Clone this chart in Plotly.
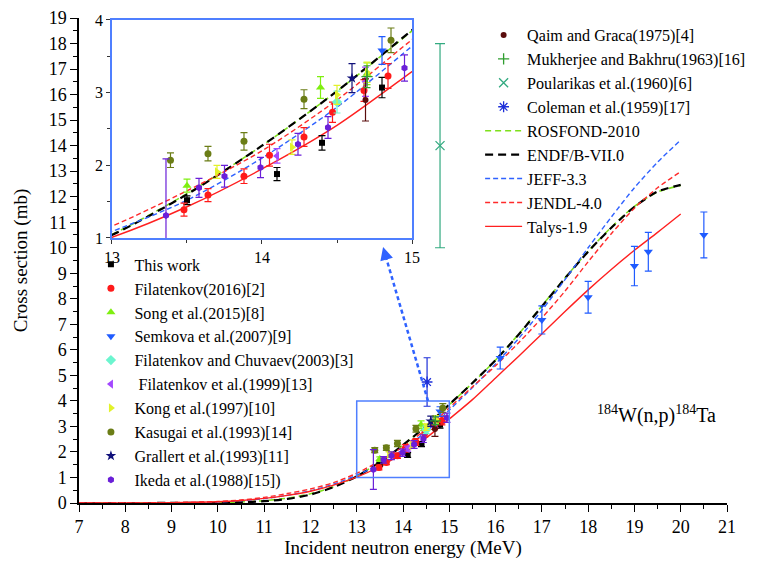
import plotly.graph_objects as go

FONT = "Liberation Serif, DejaVu Serif, Times New Roman, serif"

# ---------------- evaluated data (mb) ----------------
energy_eval = [7, 8, 9, 10, 10.5, 11, 11.5, 12, 12.5, 13, 13.5, 14, 14.5, 15,
               15.5, 16, 16.5, 17, 17.5, 18, 18.5, 19, 19.5, 20]
rosfond = [0, 0, 0.003, 0.015, 0.04, 0.09, 0.19, 0.36, 0.64, 1.05, 1.61, 2.27, 3.02, 3.85,
           4.7, 5.6, 6.62, 7.72, 8.82, 9.86, 10.8, 11.62, 12.18, 12.44]
endf = [0, 0, 0.002, 0.01, 0.03, 0.07, 0.16, 0.33, 0.62, 1.04, 1.6, 2.27, 3.02, 3.86,
        4.7, 5.6, 6.6, 7.7, 8.8, 9.85, 10.78, 11.6, 12.2, 12.46]
jeff = [0, 0.001, 0.008, 0.04, 0.09, 0.17, 0.3, 0.48, 0.74, 1.09, 1.52, 2.1, 2.8, 3.64,
        4.52, 5.45, 6.45, 7.55, 8.75, 10.0, 11.2, 12.35, 13.35, 14.22]
jendl = [0, 0.002, 0.015, 0.06, 0.12, 0.22, 0.37, 0.55, 0.8, 1.165, 1.65, 2.2, 2.9, 3.73,
         4.55, 5.38, 6.28, 7.25, 8.3, 9.45, 10.55, 11.55, 12.35, 12.98]
talys = [0, 0.002, 0.01, 0.05, 0.1, 0.18, 0.3, 0.46, 0.7, 1.01, 1.43, 1.95, 2.55, 3.29,
         4.05, 4.9, 5.75, 6.62, 7.5, 8.35, 9.15, 9.9, 10.6, 11.32]

# ---------------- experimental data ----------------
this_work_e = [13.5, 14.1, 14.4, 14.8]
this_work_s = [1.52, 1.88, 2.31, 3.07]
this_work_d = [0.06, 0.09, 0.1, 0.14]

fil2016_e = [13.48, 13.64, 13.88, 14.05, 14.28, 14.47, 14.68, 14.84]
fil2016_s = [1.39, 1.59, 1.85, 2.14, 2.39, 2.73, 3.03, 3.23]
fil2016_d = [0.09, 0.09, 0.1, 0.15, 0.13, 0.14, 0.15, 0.17]

song2015_e = [13.5, 14.39, 14.7]
song2015_s = [1.72, 3.07, 3.26]
song2015_d = [0.09, 0.15, 0.15]

semkova2007_e = [14.8, 16.1, 17.0, 18.0, 19.0, 19.3, 20.5]
semkova2007_s = [3.58, 5.68, 7.17, 8.06, 9.28, 9.84, 10.5]
semkova2007_d = [0.19, 0.43, 0.55, 0.62, 0.77, 0.76, 0.9]

chuvaev2003_e = [14.5]
chuvaev2003_s = [2.87]
chuvaev2003_d = [0.15]

fil1999_e = [14.1, 14.69]
fil1999_s = [2.13, 3.15]
fil1999_d = [0.1, 0.2]

kong1997_e = [13.7, 14.2, 14.5, 14.7]
kong1997_s = [1.91, 2.25, 2.97, 3.28]
kong1997_d = [0.09, 0.1, 0.13, 0.14]

kasugai1993_e = [13.39, 13.64, 13.88, 14.28, 14.86]
kasugai1993_s = [2.07, 2.16, 2.33, 2.91, 3.72]
kasugai1993_d = [0.1, 0.1, 0.12, 0.13, 0.17]

grallert1993_e = [14.6]
grallert1993_s = [3.2]
grallert1993_d = [0.2]

ikeda1988_e = [13.36, 13.58, 13.75, 13.99, 14.24, 14.44, 14.95]
ikeda1988_s = [1.31, 1.69, 1.85, 1.97, 2.29, 2.52, 3.34]
ikeda1988_d = [0.78, 0.13, 0.15, 0.14, 0.15, 0.15, 0.18]

qaim1975_e = [14.69]
qaim1975_s = [2.9]
qaim1975_d = [0.29]

mukherjee1963_e = [14.7]
mukherjee1963_s = [3.22]
mukherjee1963_d = [0.15]

poularikas1960_e = [14.8]
poularikas1960_s = [14.0]
poularikas1960_d = [4.0]

coleman1959_e = [14.52]
coleman1959_s = [4.74]
coleman1959_d = [0.95]

fig = go.Figure()

curves = [
    ("ROSFOND-2010", rosfond, "#7ee01c", "6px,4px", 1.6),
    ("ENDF/B-VII.0", endf, "#000000", "8px,5px", 2.2),
    ("JEFF-3.3", jeff, "#2f62ff", "5px,3px", 1.4),
    ("JENDL-4.0", jendl, "#ff2a2a", "5px,3px", 1.4),
    ("Talys-1.9", talys, "#ff2020", "solid", 1.4),
]
rank = 100
for name, vals, col, dash, w in curves:
    rank += 1
    for ax, show in (("", True), ("2", False)):
        fig.add_trace(go.Scatter(
            x=energy_eval, y=vals, mode="lines", name=name,
            line=dict(color=col, dash=dash, width=w, shape="spline", smoothing=0.8),
            xaxis="x" + ax, yaxis="y" + ax, showlegend=show,
            legend="legend2", legendrank=rank, hoverinfo="skip"))

series = [
    ("This work", this_work_e, this_work_s, this_work_d, "#000000", "square", 6, "legend", True),
    ("Filatenkov(2016)[2]", fil2016_e, fil2016_s, fil2016_d, "#ff1a1a", "circle", 7, "legend", True),
    ("Song et al.(2015)[8]", song2015_e, song2015_s, song2015_d, "#7fef10", "triangle-up", 8, "legend", True),
    ("Semkova et al.(2007)[9]", semkova2007_e, semkova2007_s, semkova2007_d, "#1f5bff", "triangle-down", 8, "legend", True),
    ("Filatenkov and Chuvaev(2003)[3]", chuvaev2003_e, chuvaev2003_s, chuvaev2003_d, "#6cf5cf", "diamond", 8, "legend", True),
    (" Filatenkov et al.(1999)[13]", fil1999_e, fil1999_s, fil1999_d, "#a347ff", "triangle-left", 8, "legend", True),
    ("Kong et al.(1997)[10]", kong1997_e, kong1997_s, kong1997_d, "#e2f22a", "triangle-right", 8, "legend", True),
    ("Kasugai et al.(1993)[14]", kasugai1993_e, kasugai1993_s, kasugai1993_d, "#6b7d16", "circle", 7, "legend", True),
    ("Grallert et al.(1993)[11]", grallert1993_e, grallert1993_s, grallert1993_d, "#10107a", "star", 8, "legend", True),
    ("Ikeda et al.(1988)[15])", ikeda1988_e, ikeda1988_s, ikeda1988_d, "#6a1fd8", "hexagon", 7, "legend", True),
    ("Qaim and Graca(1975)[4]", qaim1975_e, qaim1975_s, qaim1975_d, "#5a0c0c", "circle", 6, "legend2", True),
    ("Mukherjee and Bakhru(1963)[16]", mukherjee1963_e, mukherjee1963_s, mukherjee1963_d, "#2f9e2f", "cross-thin", 8, "legend2", True),
    ("Poularikas et al.(1960)[6]", poularikas1960_e, poularikas1960_s, poularikas1960_d, "#33aa80", "x-thin", 9, "legend2", False),
    ("Coleman et al.(1959)[17]", coleman1959_e, coleman1959_s, coleman1959_d, "#1d2fd8", "asterisk", 9, "legend2", False),
]
rank = 0
for name, e, s, d, col, sym, size, leg, in_inset in series:
    rank += 1
    thin = sym.endswith("thin") or sym == "asterisk"
    marker = dict(symbol=sym, size=size, color=col,
                  line=dict(color=col, width=1.3 if thin else 0))
    cap = 5 if name.startswith("Poularikas") else 3.5
    axes = (("", True), ("2", False)) if in_inset else (("", True),)
    for ax, show in axes:
        fig.add_trace(go.Scatter(
            x=e, y=s, mode="markers", name=name, marker=marker,
            error_y=dict(type="data", array=d, visible=True, color=col,
                         thickness=1.2, width=cap),
            xaxis="x" + ax, yaxis="y" + ax, showlegend=show,
            legend=leg, legendrank=rank, hoverinfo="skip"))

axis_common = dict(showgrid=False, zeroline=False, showline=True, linecolor="black",
                   linewidth=1.5, ticks="outside", tickcolor="black", tickwidth=1.4,
                   ticklen=7, automargin=False, ticklabeloverflow="allow",
                   tickfont=dict(family=FONT, size=18, color="black"))

inset_common = dict(showgrid=False, zeroline=False, showline=True, mirror=True,
                    linecolor="#4f7fff", linewidth=1.5, ticks="outside", ticklen=4,
                    tickcolor="#333333", tickwidth=1, automargin=False,
                    ticklabeloverflow="allow",
                    minor=dict(dtick=0.5, ticks="outside", ticklen=3, tickcolor="#333333"),
                    tickfont=dict(family=FONT, size=16, color="black"))

fig.update_layout(
    width=783, height=564,
    margin=dict(l=71, r=64, t=10, b=69),
    paper_bgcolor="white", plot_bgcolor="rgba(0,0,0,0)",
    font=dict(family=FONT, color="black"),
    xaxis=dict(range=[7, 21], domain=[0, 1], tickmode="linear", tick0=7, dtick=1,
               minor=dict(dtick=0.5, ticks="outside", ticklen=4, tickcolor="black", tickwidth=1.2),
               title=dict(text="Incident neutron energy (MeV)", font=dict(family=FONT, size=19), standoff=2),
               **axis_common),
    yaxis=dict(range=[0, 19], domain=[0, 1], tickmode="linear", tick0=0, dtick=1,
               minor=dict(dtick=0.5, ticks="outside", ticklen=4, tickcolor="black", tickwidth=1.2),
               title=dict(text="Cross section (mb)", font=dict(family=FONT, size=19), standoff=16),
               **axis_common),
    xaxis2=dict(range=[13, 15], domain=[0.0509, 0.5139], anchor="y2", tickmode="linear",
                tick0=13, dtick=1, **inset_common),
    yaxis2=dict(range=[1, 4], domain=[0.5464, 0.9959], anchor="x2", tickmode="linear",
                tick0=1, dtick=1, **inset_common),
    legend=dict(x=0.013, y=0.527, xanchor="left", yanchor="top", bgcolor="rgba(0,0,0,0)",
                font=dict(family=FONT, size=16.1, color="black"), tracegroupgap=0,
                traceorder="normal", itemwidth=37),
    legend2=dict(x=0.619, y=1.0, xanchor="left", yanchor="top", bgcolor="rgba(0,0,0,0)",
                 font=dict(family=FONT, size=16.1, color="black"), tracegroupgap=0,
                 traceorder="normal", itemwidth=37),
    showlegend=True,
)

fig.add_shape(type="rect", xref="x", yref="y", x0=13, x1=15, y0=1, y1=4,
              line=dict(color="#4f7fff", width=1.5))
fig.add_shape(type="line", xref="x", yref="y", x0=14.54, y0=4.0, x1=13.64, y1=9.58,
              line=dict(color="#2f62ff", width=2.5, dash="4px,3px"))
fig.add_annotation(x=13.57, y=10.03, ax=13.64, ay=9.58, xref="x", yref="y",
                   axref="x", ayref="y", text="", showarrow=True, arrowhead=2,
                   arrowsize=1.3, arrowwidth=2, arrowcolor="#2f62ff")

fig.add_annotation(x=19.47, y=3.45, xref="x", yref="y", showarrow=False,
                   text="<sup>184</sup>W(n,p)<sup>184</sup>Ta",
                   font=dict(family=FONT, size=20, color="black"))

fig.write_html("out.html")
